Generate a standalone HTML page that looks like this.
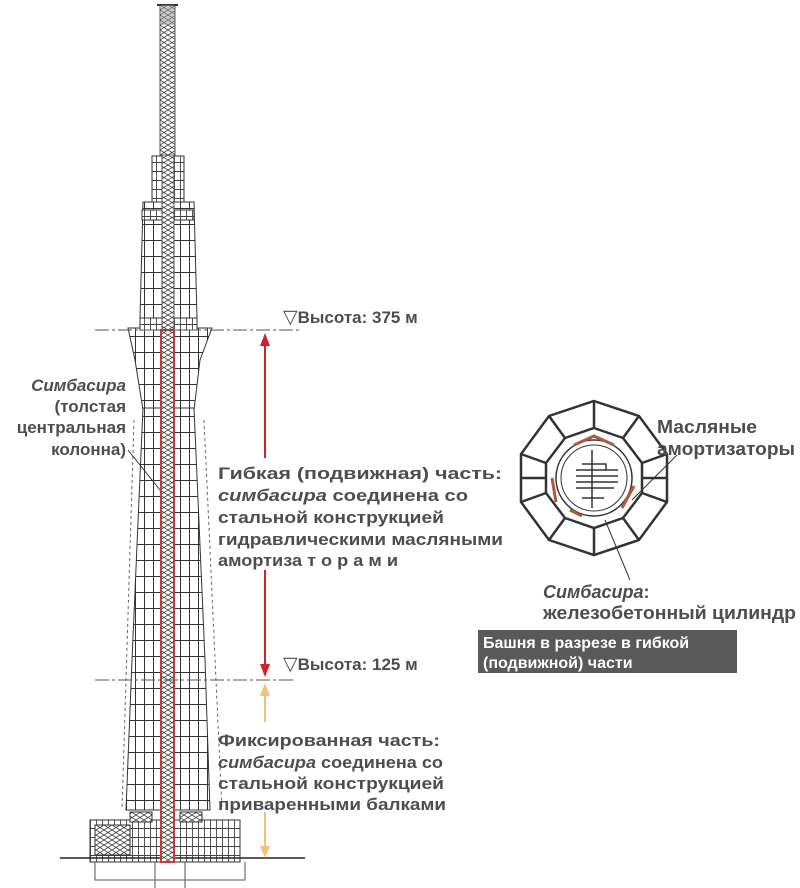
<!DOCTYPE html>
<html><head><meta charset="utf-8"><style>
html,body{margin:0;padding:0;background:#fff}
svg{display:block}
text{font-family:"Liberation Sans",Arial,sans-serif;fill:#4d4d4d;font-weight:bold}
</style></head><body>
<svg width="800" height="888" viewBox="0 0 800 888" xmlns="http://www.w3.org/2000/svg">
<defs>
<pattern id="grid" width="9" height="16" patternUnits="userSpaceOnUse">
<rect width="9" height="16" fill="#fff"/>
<path d="M0 0.5H9M0.5 0V16" stroke="#333" stroke-width="1"/>
</pattern>
<pattern id="gridS" width="6" height="9" patternUnits="userSpaceOnUse">
<rect width="6" height="9" fill="#fff"/>
<path d="M0 0.5H6M0.5 0V9" stroke="#444" stroke-width="0.9"/>
</pattern>
<pattern id="hatch" width="8" height="5" patternUnits="userSpaceOnUse">
<rect width="8" height="5" fill="#fff"/>
<path d="M0 5L8 0M0 0L8 5" stroke="#444" stroke-width="0.8"/>
</pattern>
</defs>

<rect x="160" y="5" width="15" height="150" fill="url(#hatch)" stroke="#555" stroke-width="1"/>
<line x1="157" y1="5" x2="178" y2="5" stroke="#333" stroke-width="2"/>
<rect x="161" y="5" width="13" height="20" fill="#999" opacity=".5"/>
<rect x="152" y="156" width="32" height="48" fill="url(#gridS)" stroke="#333"/>
<polygon points="143,202 194,202 197,318 140,318" fill="url(#grid)" stroke="#333"/>
<rect x="142" y="210" width="52" height="10" fill="url(#gridS)" stroke="#333"/>
<polygon points="128,328 212,328 200,360 194,410 143,410 135,360" fill="url(#grid)" stroke="#333"/>
<rect x="140" y="318" width="57" height="12" fill="url(#gridS)" stroke="#333"/>
<polygon points="143,408 194,408 205,660 210,810 126,810 132,660" fill="url(#grid)" stroke="#333"/>
<path d="M134,420 L122,810 M204,420 L222,810" stroke="#666" stroke-dasharray="3 3" fill="none"/>
<rect x="90" y="820" width="150" height="42" fill="url(#gridS)" stroke="#333"/>
<rect x="130" y="812" width="22" height="10" fill="url(#hatch)" stroke="#333"/>
<rect x="180" y="812" width="22" height="10" fill="url(#hatch)" stroke="#333"/>
<rect x="95" y="825" width="35" height="30" fill="url(#hatch)" stroke="#333"/>
<line x1="60" y1="858" x2="305" y2="858" stroke="#222" stroke-width="1.5"/>
<path d="M95,862 V880 H245 V862 M155,862 V888 M185,862 V888" stroke="#555" fill="none"/>
<rect x="162" y="155" width="12" height="175" fill="url(#hatch)" stroke="#555"/>
<rect x="161" y="330" width="13" height="532" fill="url(#hatch)" stroke="#c83a3a" stroke-width="2"/>

<line x1="95" y1="330" x2="300" y2="330" stroke="#555" stroke-dasharray="14 3 3 3"/>
<line x1="95" y1="680" x2="295" y2="680" stroke="#555" stroke-dasharray="14 3 3 3"/>

<line x1="265" y1="345" x2="265" y2="458" stroke="#d0202a" stroke-width="2"/>
<line x1="265" y1="570" x2="265" y2="664" stroke="#d0202a" stroke-width="2"/>
<polygon points="265,333 260,346 270,346" fill="#d0202a"/>
<polygon points="265,677 260,664 270,664" fill="#d0202a"/>
<line x1="265" y1="695" x2="265" y2="722" stroke="#f5c07a" stroke-width="2"/>
<line x1="265" y1="812" x2="265" y2="848" stroke="#f5c07a" stroke-width="2"/>
<polygon points="265,683 260,696 270,696" fill="#f5c07a"/>
<polygon points="265,858 260,846 270,846" fill="#f5c07a"/>

<g font-size="17" text-anchor="end">
<text x="126" y="391" font-style="italic">Симбасира</text>
<text x="126" y="412">(толстая</text>
<text x="126" y="433">центральная</text>
<text x="126" y="455">колонна)</text>
</g>
<line x1="128" y1="450" x2="160" y2="490" stroke="#333"/>

<g font-size="17">
<text x="283" y="323"><tspan font-size="19" font-weight="normal">▽</tspan>Высота: 375 м</text>
<text x="283" y="670"><tspan font-size="19" font-weight="normal">▽</tspan>Высота: 125 м</text>
</g>

<g font-size="17">
<text x="218" y="479" textLength="284" lengthAdjust="spacingAndGlyphs">Гибкая (подвижная) часть:</text>
<text x="218" y="501" textLength="250" lengthAdjust="spacingAndGlyphs"><tspan font-style="italic">симбасира</tspan> соединена со</text>
<text x="218" y="523" textLength="226" lengthAdjust="spacingAndGlyphs">стальной конструкцией</text>
<text x="218" y="545" textLength="285" lengthAdjust="spacingAndGlyphs">гидравлическими масляными</text>
<text x="218" y="566" textLength="180" lengthAdjust="spacingAndGlyphs">амортиза т о р а м и</text>
</g>

<g font-size="17">
<text x="218" y="746" textLength="222" lengthAdjust="spacingAndGlyphs">Фиксированная часть:</text>
<text x="218" y="768" textLength="225" lengthAdjust="spacingAndGlyphs"><tspan font-style="italic">симбасира</tspan> соединена со</text>
<text x="218" y="789" textLength="226" lengthAdjust="spacingAndGlyphs">стальной конструкцией</text>
<text x="218" y="810" textLength="228" lengthAdjust="spacingAndGlyphs">приваренными балками</text>
</g>

<g transform="translate(594,478)" stroke="#333" fill="none">
<polygon stroke-width="2.5" points="0,-77 45,-62 73,-24 73,24 45,62 0,77 -45,62 -73,24 -73,-24 -45,-62"/>
<polygon stroke-width="2.5" points="0,-50 29,-40 48,-15 48,15 29,40 0,50 -29,40 -48,15 -48,-15 -29,-40"/>
<g stroke-width="2.5">
<line x1="0" y1="-77" x2="0" y2="-50"/><line x1="0" y1="77" x2="0" y2="50"/>
<line x1="73" y1="0" x2="48" y2="0"/><line x1="-73" y1="0" x2="-48" y2="0"/>
<line x1="45" y1="-62" x2="29" y2="-40"/><line x1="-45" y1="-62" x2="-29" y2="-40"/>
<line x1="45" y1="62" x2="29" y2="40"/><line x1="-45" y1="62" x2="-29" y2="40"/>
<line x1="73" y1="-24" x2="48" y2="-15"/><line x1="-73" y1="-24" x2="-48" y2="-15"/>
<line x1="73" y1="24" x2="48" y2="15"/><line x1="-73" y1="24" x2="-48" y2="15"/>
</g>
<circle r="38" stroke-width="1.5"/>
<circle r="33" stroke-width="1"/>
<path d="M-2,-28 V30 M-18,-8 H24 M-18,-2 H24 M-18,4 H24 M-18,10 H20 M-12,-14 H12 V-8 M-12,20 H10" stroke-width="1.5"/>
<g stroke="#b05a3a" stroke-width="3">
<path d="M-20,-33 L0,-42 L20,-33"/>
<path d="M-42,0 L-38,24"/>
<path d="M40,8 L28,30"/>
<path d="M-12,38 L-24,32"/>
</g>
</g>
<line x1="677" y1="455" x2="632" y2="500" stroke="#333"/>
<line x1="605" y1="520" x2="630" y2="580" stroke="#333"/>
<g font-size="18">
<text x="657" y="433" textLength="100" lengthAdjust="spacingAndGlyphs">Масляные</text>
<text x="657" y="455" textLength="138" lengthAdjust="spacingAndGlyphs">амортизаторы</text>
<text x="543" y="598" font-style="italic">Симбасира<tspan font-style="normal">:</tspan></text>
<text x="543" y="619" textLength="253" lengthAdjust="spacingAndGlyphs">железобетонный цилиндр</text>
</g>
<rect x="478" y="630" width="259" height="43" fill="#595959"/>
<g font-size="16">
<text x="483" y="648" style="fill:#fff">Башня в разрезе в гибкой</text>
<text x="483" y="668" style="fill:#fff">(подвижной) части</text>
</g>
</svg>
</body></html>
